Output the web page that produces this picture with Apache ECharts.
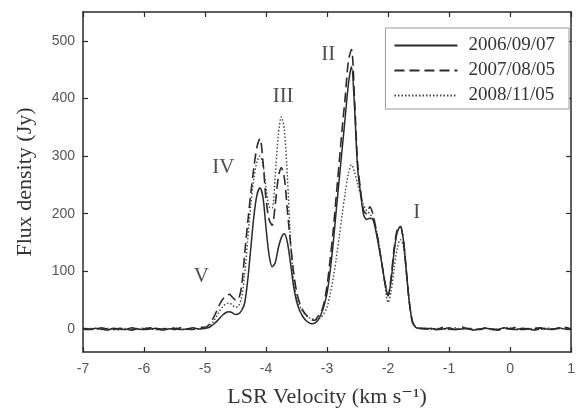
<!DOCTYPE html>
<html><head><meta charset="utf-8">
<script src="https://cdn.jsdelivr.net/npm/echarts@6/dist/echarts.min.js"></script>
<style>html,body{margin:0;padding:0;background:#fff}#c{width:578px;height:413px}</style>
</head><body><div id="c"></div>
<script>
const velocity = [
 -7.0,-6.9,-6.8,-6.7,-6.6,-6.5,-6.4,-6.3,-6.2,-6.1,-6.0,-5.9,-5.8,-5.7,-5.6,-5.5,-5.4,-5.3,-5.2,-5.1,
 -5.00,-4.95,-4.90,-4.85,-4.80,-4.75,-4.70,-4.65,-4.60,-4.55,-4.50,-4.45,-4.40,-4.35,-4.30,-4.25,-4.20,-4.15,-4.10,-4.05,
 -4.00,-3.95,-3.90,-3.85,-3.80,-3.75,-3.70,-3.65,-3.60,-3.55,-3.50,-3.45,-3.40,-3.35,-3.30,-3.25,-3.20,-3.15,-3.10,-3.05,
 -3.00,-2.95,-2.90,-2.85,-2.80,-2.75,-2.70,-2.65,-2.60,-2.55,-2.50,-2.45,-2.40,-2.35,-2.30,-2.25,-2.20,-2.15,-2.10,-2.05,
 -2.00,-1.95,-1.90,-1.85,-1.80,-1.75,-1.70,-1.65,-1.60,-1.55,-1.50,
 -1.4,-1.3,-1.2,-1.1,-1.0,-0.9,-0.8,-0.7,-0.6,-0.5,-0.4,-0.3,-0.2,-0.1,0.0,0.1,0.2,0.3,0.4,0.5,0.6,0.7,0.8,0.9,1.0
];
const flux2006 = [
 0,-1,1,0,-2,1,0,-1,2,0,-1,0,1,-2,0,1,-1,0,2,0,
 1,2,5,9,14,20,25,29,30,28,25,26,32,45,85,140,195,232,245,228,
 175,128,108,115,140,158,165,150,115,75,48,32,22,15,11,9,10,15,25,40,
 62,100,148,205,260,315,370,425,455,385,280,235,198,190,192,190,170,142,112,80,
 57,85,135,168,178,155,100,45,12,3,1,
 0,1,-1,0,2,-1,0,1,-2,0,1,0,-1,2,0,-1,1,0,-2,1,0,-1,2,0,1
];
const flux2007 = [
 1,0,-1,2,0,-1,1,0,-2,1,0,2,-1,0,1,-1,2,0,-1,3,
 3,6,12,22,33,45,53,58,60,55,50,52,75,130,185,235,280,315,330,290,
 225,190,180,215,262,280,262,205,150,100,65,45,33,25,20,16,15,22,28,45,
 75,120,170,230,290,350,405,465,485,400,290,240,205,200,212,200,175,145,112,80,
 58,90,140,172,178,155,100,45,12,4,2,
 1,0,-1,3,0,-1,4,0,1,-1,2,0,-2,1,0,3,-1,0,1,2,-1,0,1,3,0
];
const flux2008 = [
 -1,1,0,-1,1,0,-2,1,0,-1,2,0,-1,1,0,2,0,-1,1,0,
 1,4,8,15,24,33,40,44,45,41,38,40,55,95,155,215,260,290,300,285,
 245,212,210,265,335,368,345,265,155,88,55,40,30,24,20,18,16,17,20,27,
 38,60,88,122,160,200,238,270,285,272,252,232,215,205,200,192,175,148,112,75,
 46,65,105,140,155,145,95,45,14,4,1,
 0,-1,1,0,-1,2,0,1,-1,0,1,-2,0,1,2,0,-1,1,0,-1,2,0,1,0,-1
];
const seriesNames = ['2006/09/07','2007/08/05','2008/11/05'];
const yTicks = [0,100,200,300,400,500];
const peakLabels = ['I','II','III','IV','V'];
const peakLabelVel = [-1.53,-2.98,-3.72,-4.70,-5.06];
const peakLabelFlux = [202,477,403,281,91];

const chart = echarts.init(document.getElementById('c'), null, {renderer:'canvas'});
const pairs = arr => velocity.map((v,i)=>[v,arr[i]]);
const ink = '#2a2a2a';
const serif = '"Liberation Serif","DejaVu Serif",serif';
const sans = '"Liberation Sans",Arial,sans-serif';
const axisCommon = {
  axisLine:{show:true,onZero:false,lineStyle:{color:ink,width:1.5}},
  splitLine:{show:false}
};
chart.setOption({
  animation:false,
  backgroundColor:'#fff',
  grid:{left:83,right:5,top:12,bottom:60,containLabel:false},
  legend:{
    show:true,
    right:9, top:28, orient:'vertical',
    itemWidth:63, itemHeight:14, itemGap:6,
    padding:[8,14,4,8],
    borderColor:'#999', borderWidth:1, backgroundColor:'#fff',
    itemStyle:{opacity:0},
    textStyle:{fontFamily:serif,fontSize:19,color:'#333',padding:[0,0,0,6]},
    data:seriesNames
  },
  xAxis:[
    Object.assign({type:'value',min:-7,max:1,interval:1,position:'bottom',
      axisTick:{show:true,inside:true,length:5,lineStyle:{color:ink,width:1.2}},
      axisLabel:{color:'#555',fontFamily:sans,fontSize:14,margin:10},
      name:'LSR Velocity (km s⁻¹)',nameLocation:'middle',nameGap:34,
      nameTextStyle:{fontFamily:serif,fontSize:22,color:'#333'}
    },axisCommon),
    Object.assign({type:'value',min:-7,max:1,interval:1,position:'top',
      axisTick:{show:true,inside:true,length:5,lineStyle:{color:ink,width:1.2}},
      axisLabel:{show:false}},axisCommon)
  ],
  yAxis:[
    Object.assign({type:'value',min:-40,max:550,position:'left',
      axisTick:{show:true,inside:true,length:5,customValues:yTicks,lineStyle:{color:ink,width:1.2}},
      axisLabel:{color:'#555',fontFamily:sans,fontSize:14,margin:8,customValues:yTicks},
      name:'Flux density (Jy)',nameLocation:'middle',nameGap:47,nameRotate:90,
      nameTextStyle:{fontFamily:serif,fontSize:22,color:'#333'}
    },axisCommon),
    Object.assign({type:'value',min:-40,max:550,position:'right',
      axisTick:{show:true,inside:true,length:5,customValues:yTicks,lineStyle:{color:ink,width:1.2}},
      axisLabel:{show:false,customValues:yTicks}},axisCommon)
  ],
  series:[
    {name:seriesNames[0],type:'line',data:pairs(flux2006),symbol:'none',smooth:0.3,
     lineStyle:{color:ink,width:1.5,type:'solid'},itemStyle:{color:ink},z:3},
    {name:seriesNames[1],type:'line',data:pairs(flux2007),symbol:'none',smooth:0.3,
     lineStyle:{color:ink,width:1.6,type:[10,5]},itemStyle:{color:ink},z:2},
    {name:seriesNames[2],type:'line',data:pairs(flux2008),symbol:'none',smooth:0.3,
     lineStyle:{color:'#444',width:1.4,type:[1.5,2]},itemStyle:{color:'#444'},z:1},
    {name:'labels',type:'scatter',symbolSize:0,silent:true,
     data:peakLabels.map((t,i)=>({value:[peakLabelVel[i],peakLabelFlux[i]],name:t})),
     label:{show:true,position:'inside',formatter:p=>p.name,fontFamily:serif,fontSize:21,color:'#222'}}
  ]
});
</script></body></html>
